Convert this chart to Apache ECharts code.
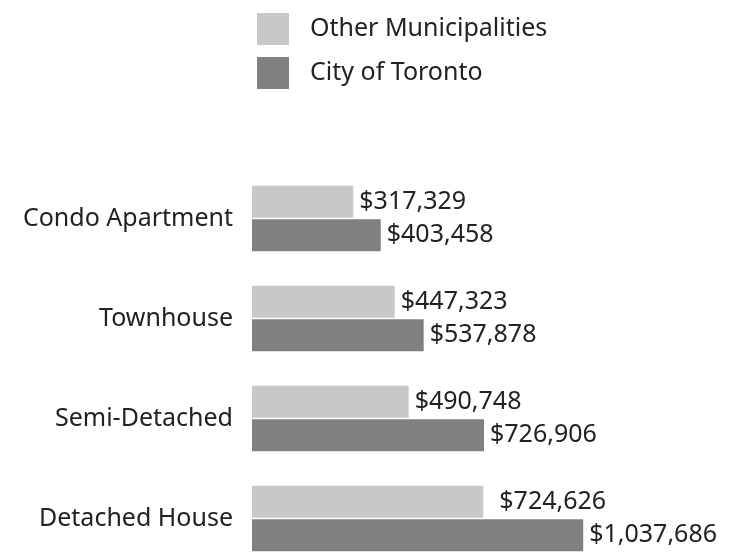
<!DOCTYPE html>
<html>
<head>
<meta charset="utf-8">
<script src="https://cdn.jsdelivr.net/npm/echarts@6/dist/echarts.min.js"></script>
<style>
  html, body { margin: 0; padding: 0; background: #fff; }
  #chart { width: 731px; height: 554px; }
</style>
</head>
<body>
<div id="chart"></div>
<script>
// data
const categories = ['Condo Apartment', 'Townhouse', 'Semi-Detached', 'Detached House'];
const otherMunicipalities = [317329, 447323, 490748, 724626];
const cityOfToronto = [403458, 537878, 726906, 1037686];

const fontFamily = '"Noto Sans", "Open Sans", sans-serif';
const money = v => '$' + v.toLocaleString('en-US');

const myChart = echarts.init(document.getElementById('chart'));
myChart.setOption({
  animation: false,
  textStyle: { fontFamily: fontFamily },
  legend: {
    orient: 'vertical',
    left: 252,
    top: 8,
    itemWidth: 32,
    itemHeight: 32,
    itemGap: 12,
    icon: 'rect',
    textStyle: { fontSize: 25, color: '#222', padding: [0, 0, 0, 16] },
    data: ['Other Municipalities', 'City of Toronto']
  },
  grid: { left: 252, top: 168.5, width: 383, height: 400, outerBoundsMode: 'none' },
  xAxis: {
    type: 'value',
    min: 0,
    max: 1200000,
    show: false
  },
  yAxis: {
    type: 'category',
    inverse: true,
    data: categories,
    axisLine: { show: false },
    axisTick: { show: false },
    splitLine: { show: false },
    axisLabel: { fontSize: 25, color: '#222', margin: 19 }
  },
  series: [
    {
      name: 'Other Municipalities',
      type: 'bar',
      // the last label sits a little further out in the original
      data: otherMunicipalities.map((v, i) => i === 3 ? { value: v, label: { distance: 16 } } : v),
      barWidth: 32,
      barGap: '5%',
      itemStyle: { color: '#c8c8c8' },
      label: { show: true, position: 'right', distance: 6, fontSize: 25, color: '#222', formatter: p => money(p.value) }
    },
    {
      name: 'City of Toronto',
      type: 'bar',
      data: cityOfToronto,
      barWidth: 32,
      itemStyle: { color: '#808080' },
      label: { show: true, position: 'right', distance: 6, fontSize: 25, color: '#222', formatter: p => money(p.value) }
    }
  ]
});
</script>
</body>
</html>
